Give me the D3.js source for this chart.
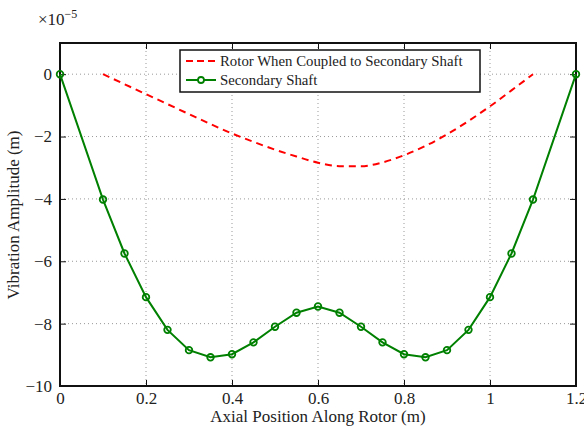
<!DOCTYPE html>
<html>
<head>
<meta charset="utf-8">
<script src="https://cdn.jsdelivr.net/npm/d3@7"></script>
<style>
  body { margin: 0; background: #fff; }
  svg text { font-family: 'Liberation Serif', 'Times New Roman', 'DejaVu Serif', serif; fill: #222; }
</style>
</head>
<body>
<div id="chart"></div>
<script>
// ------- Data (values in units of 1e-5 m) -------
const shaftX = [0, 0.1, 0.15, 0.2, 0.25, 0.3, 0.35, 0.4, 0.45, 0.5, 0.55, 0.6,
                0.65, 0.7, 0.75, 0.8, 0.85, 0.9, 0.95, 1.0, 1.05, 1.1, 1.2]
const shaftY = [0, -4.02, -5.75, -7.15, -8.2, -8.85, -9.08, -8.98, -8.6, -8.1, -7.65, -7.45,
                -7.65, -8.1, -8.6, -8.98, -9.08, -8.85, -8.2, -7.15, -5.75, -4.02, 0]
const rotorX = [0.1, 0.15, 0.2, 0.25, 0.3, 0.35, 0.4, 0.45, 0.5, 0.55, 0.6, 0.65,
                0.7, 0.75, 0.8, 0.85, 0.9, 0.95, 1.0, 1.05, 1.1]
const rotorY = [0, -0.32, -0.64, -0.96, -1.28, -1.6, -1.9, -2.17, -2.42, -2.64, -2.84, -2.95,
                -2.95, -2.83, -2.6, -2.3, -1.93, -1.5, -1.03, -0.52, 0]
const xTicks = [0, 0.2, 0.4, 0.6, 0.8, 1, 1.2]
const yTicks = [0, -2, -4, -6, -8, -10]
const seriesNames = ["Rotor When Coupled to Secondary Shaft", "Secondary Shaft"]

const FONT = "'Liberation Serif', 'Times New Roman', 'DejaVu Serif', serif"
const W = 584, H = 426
const margin = {left: 60, right: 8, top: 43, bottom: 40}
const iw = W - margin.left - margin.right
const ih = H - margin.top - margin.bottom

let svg = d3.select("#chart").append("svg")
    .attr("width", W)
    .attr("height", H)
    .style("font-family", FONT)

let g = svg.append("g")
    .attr("transform", `translate(${margin.left},${margin.top})`)

let xScale = d3.scaleLinear().domain([0, 1.2]).range([0, iw])
let yScale = d3.scaleLinear().domain([-10, 1]).range([ih, 0])

// grid
g.append("g")
  .selectAll("line")
  .data(xTicks.slice(1, -1))
  .join("line")
  .attr("x1", d => xScale(d)).attr("x2", d => xScale(d))
  .attr("y1", 0).attr("y2", ih)
  .attr("stroke", "#999").attr("stroke-width", 1).attr("stroke-dasharray", "1,3")

g.append("g")
  .selectAll("line")
  .data(yTicks.slice(0, -1))
  .join("line")
  .attr("y1", d => yScale(d)).attr("y2", d => yScale(d))
  .attr("x1", 0).attr("x2", iw)
  .attr("stroke", "#999").attr("stroke-width", 1).attr("stroke-dasharray", "1,3")

// axes with inward ticks
const fmt = d => d3.format("")(d).replace("-", "\u2212")
let xAxis = g.append("g")
  .attr("transform", `translate(0,${ih})`)
  .call(d3.axisBottom(xScale).tickValues(xTicks).tickSize(-6).tickPadding(6).tickFormat(fmt))
let xAxisTop = g.append("g")
  .call(d3.axisTop(xScale).tickValues(xTicks).tickSize(-6).tickFormat(""))
let yAxis = g.append("g")
  .call(d3.axisLeft(yScale).tickValues(yTicks).tickSize(-6).tickPadding(8).tickFormat(fmt))
let yAxisRight = g.append("g")
  .attr("transform", `translate(${iw},0)`)
  .call(d3.axisRight(yScale).tickValues(yTicks).tickSize(-6).tickFormat(""))

;[xAxis, xAxisTop, yAxis, yAxisRight].forEach(a => {
  a.attr("font-family", FONT)
  a.select(".domain").remove()
  a.selectAll(".tick line").attr("stroke", "#111").attr("stroke-width", 1)
  a.selectAll("text").attr("font-size", 17).attr("font-family", FONT).attr("fill", "#222")
})

g.append("rect")
  .attr("width", iw).attr("height", ih)
  .attr("fill", "none").attr("stroke", "#111").attr("stroke-width", 2)

// lines
let line = d3.line().x(d => xScale(d[0])).y(d => yScale(d[1]))
let smooth = d3.line().curve(d3.curveMonotoneX).x(d => xScale(d[0])).y(d => yScale(d[1]))
let rotor = rotorX.map((x, i) => [x, rotorY[i]])
let shaft = shaftX.map((x, i) => [x, shaftY[i]])

g.append("path")
  .datum(rotor)
  .attr("d", smooth)
  .attr("fill", "none").attr("stroke", "#ff0000").attr("stroke-width", 2)
  .attr("stroke-dasharray", "7,5")

g.append("path")
  .datum(shaft)
  .attr("d", line)
  .attr("fill", "none").attr("stroke", "#008000").attr("stroke-width", 2)

g.append("g")
  .selectAll("circle")
  .data(shaft)
  .join("circle")
  .attr("cx", d => xScale(d[0])).attr("cy", d => yScale(d[1]))
  .attr("r", 3.3)
  .attr("fill", "none").attr("stroke", "#008000").attr("stroke-width", 1.8)

// legend
let lg = svg.append("g").attr("transform", "translate(180,50)")
lg.append("rect")
  .attr("width", 300).attr("height", 42)
  .attr("fill", "#fff").attr("stroke", "#111").attr("stroke-width", 1.5)
lg.append("line")
  .attr("x1", 6).attr("x2", 36).attr("y1", 11).attr("y2", 11)
  .attr("stroke", "#ff0000").attr("stroke-width", 2).attr("stroke-dasharray", "7,4")
lg.append("line")
  .attr("x1", 6).attr("x2", 36).attr("y1", 30).attr("y2", 30)
  .attr("stroke", "#008000").attr("stroke-width", 2)
lg.append("circle")
  .attr("cx", 21).attr("cy", 30).attr("r", 3)
  .attr("fill", "#fff").attr("stroke", "#008000").attr("stroke-width", 1.8)
lg.selectAll("text.leg")
  .data(seriesNames)
  .join("text")
  .attr("class", "leg")
  .attr("x", 40).attr("y", (d, i) => 16 + i * 19)
  .attr("font-size", 14.8)
  .text(d => d)

// labels
svg.append("text")
  .attr("x", 318).attr("y", 422)
  .attr("text-anchor", "middle").attr("font-size", 17)
  .text("Axial Position Along Rotor (m)")

svg.append("text")
  .attr("transform", "translate(19,215) rotate(-90)")
  .attr("text-anchor", "middle").attr("font-size", 17)
  .text("Vibration Amplitude (m)")

let ex = svg.append("text").attr("x", 38).attr("y", 25).attr("font-size", 17)
ex.append("tspan").text("\u00d710")
ex.append("tspan").attr("dy", -7).attr("font-size", 12).text("\u22125")
</script>
</body>
</html>
